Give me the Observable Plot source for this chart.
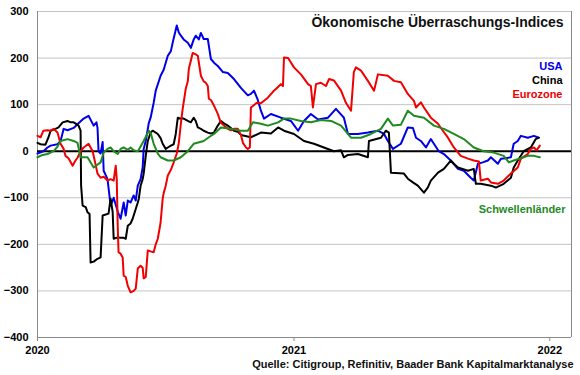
<!DOCTYPE html>
<html>
<head>
<meta charset="utf-8">
<script src="https://cdn.jsdelivr.net/npm/d3@7"></script>
<script src="https://cdn.jsdelivr.net/npm/@observablehq/plot@0.6"></script>
<style>
  html, body { margin: 0; padding: 0; background: #fff; }
  #chart { width: 580px; height: 375px; }
</style>
</head>
<body>
<div id="chart"></div>
<script>
// ---- Data (decimal year, index value) ----
const title = "Ökonomische Überraschungs-Indices";
const source = "Quelle: Citigroup, Refinitiv, Baader Bank Kapitalmarktanalyse";
const seriesNames = ["USA", "China", "Eurozone", "Schwellenländer"];
const seriesColors = ["#0000e8", "#000000", "#f00000", "#1f8a1f"];
const yTicks = [-400, -300, -200, -100, 0, 100, 200, 300];
const xTickYears = [2020, 2021, 2022];

const usa = [
  [2020.000,-5],[2020.023,0],[2020.039,8],[2020.051,12],[2020.078,15],[2020.090,22],[2020.102,48],[2020.117,45],
  [2020.141,50],[2020.160,60],[2020.180,70],[2020.199,76],[2020.219,55],[2020.230,62],[2020.234,50],[2020.238,0],
  [2020.246,-5],[2020.254,20],[2020.258,-42],[2020.273,-60],[2020.285,-117],[2020.297,-100],[2020.313,-130],[2020.324,-145],
  [2020.336,-110],[2020.344,-138],[2020.352,-106],[2020.363,-110],[2020.375,-95],[2020.383,-106],[2020.391,-74],[2020.402,-60],
  [2020.410,-35],[2020.414,5],[2020.422,22],[2020.434,61],[2020.441,72],[2020.453,104],[2020.461,130],[2020.480,162],
  [2020.492,175],[2020.508,205],[2020.520,215],[2020.527,233],[2020.543,270],[2020.551,255],[2020.559,248],[2020.570,240],
  [2020.586,233],[2020.598,222],[2020.609,240],[2020.617,248],[2020.629,240],[2020.637,254],[2020.648,241],[2020.664,241],
  [2020.676,198],[2020.688,190],[2020.703,183],[2020.723,170],[2020.742,168],[2020.766,155],[2020.793,136],[2020.820,120],
  [2020.832,123],[2020.844,130],[2020.859,110],[2020.871,87],[2020.883,70],[2020.910,80],[2020.949,72],[2020.988,65],
  [2021.016,44],[2021.039,65],[2021.066,80],[2021.094,68],[2021.133,72],[2021.164,91],[2021.195,72],[2021.211,37],
  [2021.250,37],[2021.289,40],[2021.328,44],[2021.352,37],[2021.367,22],[2021.387,5],[2021.418,16],[2021.445,51],
  [2021.465,50],[2021.477,29],[2021.496,22],[2021.516,8],[2021.535,26],[2021.547,16],[2021.566,0],[2021.586,-6],
  [2021.613,-20],[2021.641,-38],[2021.664,-42],[2021.691,-57],[2021.703,-63],[2021.719,-27],[2021.738,-24],[2021.758,-20],
  [2021.770,-13],[2021.797,-27],[2021.809,-16],[2021.828,-15],[2021.848,-13],[2021.859,16],[2021.875,22],[2021.887,33],
  [2021.914,29],[2021.938,33],[2021.957,29]
];

const china = [
  [2020.000,18],[2020.012,15],[2020.031,14],[2020.043,30],[2020.051,44],[2020.070,48],[2020.082,51],[2020.098,62],
  [2020.117,65],[2020.129,62],[2020.141,62],[2020.152,58],[2020.160,55],[2020.168,44],[2020.170,-74],[2020.176,-117],
  [2020.188,-120],[2020.195,-131],[2020.203,-135],[2020.207,-239],[2020.219,-237],[2020.234,-231],[2020.246,-228],[2020.254,-138],
  [2020.266,-136],[2020.277,-134],[2020.285,-102],[2020.293,-130],[2020.297,-188],[2020.313,-185],[2020.324,-186],[2020.336,-186],
  [2020.344,-188],[2020.352,-160],[2020.363,-155],[2020.371,-145],[2020.383,-124],[2020.391,-110],[2020.395,-102],[2020.402,-74],
  [2020.410,-60],[2020.414,-48],[2020.422,-10],[2020.430,22],[2020.441,40],[2020.449,44],[2020.461,40],[2020.469,37],
  [2020.480,28],[2020.488,16],[2020.500,5],[2020.508,8],[2020.520,12],[2020.531,15],[2020.539,37],[2020.547,72],
  [2020.559,70],[2020.570,70],[2020.586,65],[2020.598,62],[2020.609,72],[2020.617,65],[2020.625,51],[2020.637,48],
  [2020.648,44],[2020.664,40],[2020.676,38],[2020.688,40],[2020.703,55],[2020.715,65],[2020.727,60],[2020.742,55],
  [2020.754,50],[2020.766,44],[2020.781,42],[2020.793,35],[2020.832,30],[2020.871,40],[2020.910,38],[2020.938,51],
  [2020.961,44],[2021.000,37],[2021.039,22],[2021.078,16],[2021.117,8],[2021.156,0],[2021.184,2],[2021.195,-13],
  [2021.211,-8],[2021.250,-6],[2021.289,-13],[2021.293,22],[2021.340,29],[2021.359,44],[2021.371,40],[2021.379,-46],
  [2021.430,-48],[2021.445,-59],[2021.465,-67],[2021.484,-74],[2021.508,-89],[2021.523,-78],[2021.535,-63],[2021.563,-46],
  [2021.586,-38],[2021.613,-20],[2021.625,-27],[2021.641,-35],[2021.680,-42],[2021.703,-38],[2021.711,-70],[2021.730,-70],
  [2021.770,-74],[2021.789,-78],[2021.820,-70],[2021.848,-57],[2021.859,-35],[2021.875,-20],[2021.898,0],[2021.926,8],
  [2021.945,26],[2021.957,29]
];

const eurozone = [
  [2020.000,33],[2020.012,30],[2020.023,44],[2020.039,45],[2020.051,44],[2020.063,48],[2020.078,40],[2020.090,16],
  [2020.102,5],[2020.109,-10],[2020.121,-15],[2020.137,-31],[2020.148,-20],[2020.156,-14],[2020.168,0],[2020.180,8],
  [2020.199,16],[2020.215,0],[2020.227,-30],[2020.234,-48],[2020.246,-57],[2020.258,-55],[2020.273,-63],[2020.285,-60],
  [2020.297,-63],[2020.305,-31],[2020.309,-60],[2020.313,-166],[2020.316,-217],[2020.324,-220],[2020.332,-228],[2020.336,-267],
  [2020.344,-270],[2020.352,-289],[2020.363,-303],[2020.375,-300],[2020.383,-295],[2020.391,-252],[2020.402,-246],[2020.410,-250],
  [2020.414,-273],[2020.422,-270],[2020.430,-213],[2020.441,-215],[2020.453,-217],[2020.461,-200],[2020.469,-188],[2020.480,-153],
  [2020.488,-102],[2020.492,-90],[2020.500,-74],[2020.508,-52],[2020.520,-40],[2020.531,-24],[2020.543,-5],[2020.551,18],
  [2020.559,60],[2020.566,91],[2020.578,134],[2020.586,150],[2020.590,177],[2020.598,195],[2020.605,211],[2020.617,208],
  [2020.625,205],[2020.637,162],[2020.648,150],[2020.656,147],[2020.664,140],[2020.668,113],[2020.676,110],[2020.688,98],
  [2020.703,80],[2020.715,61],[2020.727,55],[2020.742,48],[2020.754,45],[2020.766,48],[2020.781,48],[2020.793,35],
  [2020.801,18],[2020.813,8],[2020.820,5],[2020.828,8],[2020.832,94],[2020.855,104],[2020.871,103],[2020.898,115],
  [2020.922,130],[2020.949,144],[2020.957,140],[2020.961,201],[2020.977,200],[2021.000,180],[2021.027,165],[2021.055,144],
  [2021.066,140],[2021.074,94],[2021.086,144],[2021.105,147],[2021.125,140],[2021.137,155],[2021.156,152],[2021.184,130],
  [2021.203,104],[2021.223,87],[2021.234,170],[2021.242,180],[2021.262,173],[2021.289,151],[2021.313,130],[2021.328,165],
  [2021.367,162],[2021.391,151],[2021.418,148],[2021.445,123],[2021.469,108],[2021.477,94],[2021.496,105],[2021.508,94],
  [2021.535,72],[2021.563,59],[2021.582,44],[2021.602,29],[2021.625,8],[2021.652,-10],[2021.680,-16],[2021.703,-20],
  [2021.723,-22],[2021.730,-63],[2021.758,-59],[2021.770,-67],[2021.797,-70],[2021.820,-63],[2021.848,-48],[2021.875,-35],
  [2021.887,-16],[2021.914,-6],[2021.926,5],[2021.938,8],[2021.949,2],[2021.961,12]
];

const emerging = [
  [2020.000,-13],[2020.020,-8],[2020.039,-6],[2020.063,0],[2020.078,10],[2020.090,22],[2020.117,26],[2020.141,22],
  [2020.156,18],[2020.168,-13],[2020.195,-13],[2020.219,-35],[2020.246,-24],[2020.258,-3],[2020.273,5],[2020.285,8],
  [2020.297,0],[2020.313,-6],[2020.324,5],[2020.336,8],[2020.352,3],[2020.363,8],[2020.375,2],[2020.391,0],
  [2020.402,10],[2020.414,22],[2020.434,44],[2020.441,40],[2020.453,16],[2020.469,-5],[2020.480,-13],[2020.508,-20],
  [2020.531,-20],[2020.559,-13],[2020.586,0],[2020.609,16],[2020.648,22],[2020.668,30],[2020.688,37],[2020.715,51],
  [2020.754,48],[2020.793,44],[2020.820,44],[2020.840,62],[2020.871,59],[2020.898,55],[2020.938,62],[2020.961,70],
  [2020.988,70],[2021.027,65],[2021.066,62],[2021.105,67],[2021.145,65],[2021.184,55],[2021.223,29],[2021.262,29],
  [2021.301,37],[2021.340,48],[2021.367,70],[2021.387,55],[2021.418,57],[2021.445,87],[2021.469,76],[2021.508,72],
  [2021.547,55],[2021.586,48],[2021.625,37],[2021.664,26],[2021.703,8],[2021.742,0],[2021.781,-3],[2021.820,-10],
  [2021.840,-24],[2021.859,-20],[2021.887,-15],[2021.914,-10],[2021.938,-10],[2021.961,-13]
];

// ---- helpers ----
function yearToDate(y) {
  const Y = Math.floor(y);
  const s = Date.UTC(Y, 0, 1), e = Date.UTC(Y + 1, 0, 1);
  return new Date(s + (y - Y) * (e - s));
}
const allSeries = [usa, china, eurozone, emerging];
const rows = allSeries.flatMap((arr, i) =>
  arr.map(([t, v]) => ({ date: yearToDate(t), value: v, series: seriesNames[i] }))
);
const xStart = new Date(Date.UTC(2020, 0, 1));
const xEnd = new Date(Date.UTC(2022, 1, 1));
const xTicks = xTickYears.map(y => new Date(Date.UTC(y, 0, 1)));
const gridVals = yTicks.filter(v => v !== 0 && v !== -400);

const chart = Plot.plot({
  width: 580,
  height: 375,
  marginLeft: 37,
  marginRight: 9,
  marginTop: 11,
  marginBottom: 38,
  style: { fontFamily: "'Liberation Sans', Arial, sans-serif", fontSize: "11px", fontWeight: "bold", color: "#000", background: "#fff" },
  x: { type: "utc", domain: [xStart, xEnd] },
  y: { domain: [-400, 300] },
  color: { domain: seriesNames, range: seriesColors },
  marks: [
    Plot.ruleY(gridVals, { stroke: "#c4c4c4", strokeWidth: 1 }),
    Plot.ruleX([xEnd], { stroke: "#8a8a8a", strokeWidth: 1 }),
    Plot.ruleX([xStart], { stroke: "#8a8a8a", strokeWidth: 1 }),
    Plot.ruleY([-400], { stroke: "#8a8a8a", strokeWidth: 1 }),
    Plot.axisY({ ticks: yTicks, tickSize: 0, tickPadding: 9, label: null, fontWeight: "bold", fontSize: 11 }),
    Plot.axisX({ ticks: xTicks, tickSize: 4, tickPadding: 5, tickFormat: "%Y", label: null, stroke: "#8a8a8a", fontWeight: "bold", fontSize: 11 }),
    Plot.ruleY([0], { stroke: "#000", strokeWidth: 2 }),
    Plot.line(rows, { x: "date", y: "value", z: "series", stroke: "series", strokeWidth: 2, curve: "linear" }),
    Plot.text([title], { frameAnchor: "top-right", textAnchor: "end", lineAnchor: "middle", dx: -8, dy: 11.5, fontSize: 14, fontWeight: "bold", fill: "#111" }),
    Plot.text([seriesNames[0]], { frameAnchor: "top-right", textAnchor: "end", lineAnchor: "middle", dx: -9, dy: 55, fontSize: 11, fontWeight: "bold", fill: seriesColors[0] }),
    Plot.text([seriesNames[1]], { frameAnchor: "top-right", textAnchor: "end", lineAnchor: "middle", dx: -9, dy: 69, fontSize: 11, fontWeight: "bold", fill: seriesColors[1] }),
    Plot.text([seriesNames[2]], { frameAnchor: "top-right", textAnchor: "end", lineAnchor: "middle", dx: -9, dy: 83, fontSize: 11, fontWeight: "bold", fill: seriesColors[2] }),
    Plot.text([seriesNames[3]], { frameAnchor: "top-right", textAnchor: "end", lineAnchor: "middle", dx: -6, dy: 198, fontSize: 11, fontWeight: "bold", fill: seriesColors[3] }),
    Plot.text([source], { frameAnchor: "top-right", textAnchor: "end", lineAnchor: "middle", dx: 2, dy: 353, fontSize: 11, fontWeight: "bold", fill: "#111" })
  ]
});
document.getElementById("chart").appendChild(chart);
</script>
</body>
</html>
